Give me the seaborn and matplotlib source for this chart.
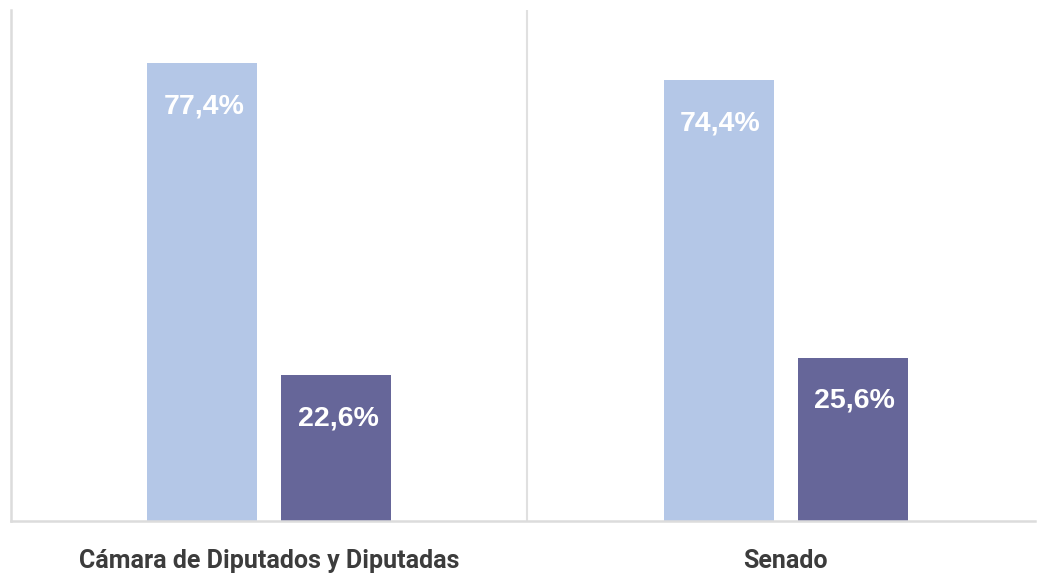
import matplotlib
matplotlib.use("Agg")
import matplotlib.pyplot as plt
import seaborn as sns
import pandas as pd

categories = ["Cámara de Diputados y Diputadas", "Senado"]
series_names = ["Serie 1", "Serie 2"]
serie1_values = [77.4, 74.4]
serie2_values = [22.6, 25.6]
colors = ["#B4C7E7", "#666699"]

df = pd.DataFrame({
    "categoria": categories * 2,
    "serie": [series_names[0]] * 2 + [series_names[1]] * 2,
    "valor": serie1_values + serie2_values,
})

sns.set_theme(style="white")
plt.rcParams["font.family"] = ["Liberation Sans", "DejaVu Sans"]

fig = plt.figure(figsize=(10.37, 5.76), dpi=100)
ax = fig.add_axes([11 / 1037, 55 / 576, 1024 / 1037, 511 / 576])

sns.barplot(data=df, x="categoria", y="valor", hue="serie", palette=colors,
            width=0.519, gap=0.179, legend=False, ax=ax, saturation=1,
            edgecolor="none")

base = -3.06
ax.set_xlim(-0.5, 1.483)
ax.set_ylim(base, 86.75)
ax.set_xlabel("")
ax.set_ylabel("")
ax.set_yticks([])

for c in ax.containers:
    for rect in c:
        h = rect.get_height()
        y0 = rect.get_y()
        ax.annotate(f"{h:.1f}".replace(".", ",") + "%",
                    xy=(rect.get_x() + rect.get_width() / 2, y0 + h),
                    xytext=(2, -43), textcoords="offset pixels",
                    ha="center", va="center", color="white",
                    fontsize=20.5, fontweight="bold",
                    fontfamily="Liberation Sans")

# bars are drawn down to the axis baseline, which sits slightly below zero
for c in ax.containers:
    for rect in c:
        rect.set_y(base)
        rect.set_height(rect.get_height() - base)

ax.axvline(0.5, color="#e0e0e0", lw=1.5, zorder=0)

for s in ["top", "right"]:
    ax.spines[s].set_visible(False)
for s in ["left", "bottom"]:
    ax.spines[s].set_color("#dcdcdc")
    ax.spines[s].set_linewidth(1.8)
ax.spines["bottom"].set_position(("data", base))

ax.tick_params(axis="x", length=0, pad=20)
for lab in ax.get_xticklabels():
    lab.set_fontfamily("Roboto")
    lab.set_fontweight("bold")
    lab.set_fontsize(18)
    lab.set_color("#3c3c3c")

fig.savefig("out.png", dpi=100)
